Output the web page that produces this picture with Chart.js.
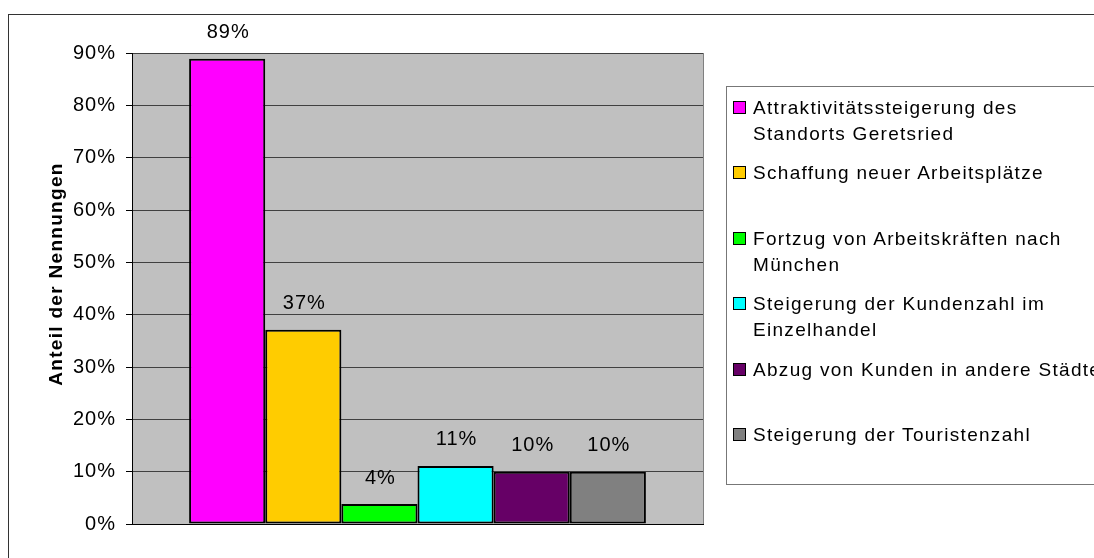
<!DOCTYPE html>
<html lang="de">
<head>
    <meta charset="UTF-8">
    <title>Anteil der Nennungen</title>
    <script src="https://cdn.jsdelivr.net/npm/chart.js"></script>
    <style>
        body {
            margin: 0;
            width: 1094px;
            height: 558px;
            overflow: hidden;
            background: #fff;
            font-family: "Liberation Sans", Arial, sans-serif;
            position: relative;
        }
        .frame {
            position: absolute;
            left: 8px;
            top: 14px;
            width: 1200px;
            height: 700px;
            border: 1px solid #333;
        }
        canvas {
            position: absolute;
            left: 0;
            top: 0;
        }
        #legend {
            position: absolute;
            left: 726px;
            top: 86px;
            width: 420px;
            height: 399px;
            border: 1px solid #777;
            background: #fff;
            padding-top: 8px;
            box-sizing: border-box;
        }
        .item {
            position: relative;
            height: 65.4px;
            padding-left: 26px;
            font-size: 19px;
            line-height: 26px;
            letter-spacing: 1.3px;
            color: #000;
            white-space: nowrap;
        }
        .swatch {
            position: absolute;
            left: 6px;
            top: 6px;
            width: 11px;
            height: 11px;
            border: 1.5px solid #000;
        }
    </style>
</head>
<body>

    <div class="frame"></div>
    <canvas id="chart" width="1094" height="558"></canvas>
    <div id="legend"></div>

    <script>
        // series names (line breaks as in the legend)
        const seriesLines = [
            ["Attraktivitätssteigerung des", "Standorts Geretsried"],
            ["Schaffung neuer Arbeitsplätze"],
            ["Fortzug von Arbeitskräften nach", "München"],
            ["Steigerung der Kundenzahl im", "Einzelhandel"],
            ["Abzug von Kunden in andere Städte"],
            ["Steigerung der Touristenzahl"]
        ];
        const values = [88.9, 37.1, 3.8, 11.1, 10, 10];
        const colors = ["#FF00FF", "#FFCC00", "#00FF00", "#00FFFF", "#660066", "#808080"];
        const yTicks = [0, 10, 20, 30, 40, 50, 60, 70, 80, 90];
        const yTitle = "Anteil der Nennungen";

        const FONT = "'Liberation Sans', Arial, sans-serif";

        const plotBg = {
            id: "plotBg",
            beforeDraw(chart) {
                const a = chart.chartArea;
                const ctx = chart.ctx;
                // slightly wider glyph spacing like the original rendering
                ctx.letterSpacing = "1px";
                ctx.save();
                ctx.fillStyle = "#C0C0C0";
                ctx.fillRect(a.left, a.top, a.right - a.left, a.bottom - a.top);
                ctx.strokeStyle = "#808080";
                ctx.lineWidth = 1;
                ctx.beginPath();
                ctx.moveTo(a.right + 0.5, a.top);
                ctx.lineTo(a.right + 0.5, a.bottom);
                ctx.stroke();
                ctx.restore();
            }
        };

        const barLabels = {
            id: "barLabels",
            afterDatasetsDraw(chart) {
                const ctx = chart.ctx;
                ctx.save();
                ctx.letterSpacing = "1px";
                ctx.font = "20px " + FONT;
                ctx.fillStyle = "#000";
                ctx.textAlign = "center";
                ctx.textBaseline = "middle";
                chart.data.datasets.forEach((ds, i) => {
                    const bar = chart.getDatasetMeta(i).data[0];
                    ctx.fillText(Math.round(ds.data[0]) + "%", bar.x + 1, bar.y - 26);
                });
                // y axis title
                ctx.letterSpacing = "1.3px";
                ctx.font = "bold 19px " + FONT;
                ctx.translate(57, 274);
                ctx.rotate(-Math.PI / 2);
                ctx.fillText(yTitle, 0, 0);
                ctx.restore();
            }
        };

        const datasets = seriesLines.map((lines, i) => ({
            label: lines.join(" "),
            data: [values[i]],
            backgroundColor: colors[i],
            borderColor: "#000",
            borderWidth: 2,
            borderSkipped: false
        }));

        const chart = new Chart(document.getElementById("chart"), {
            type: "bar",
            data: { labels: [""], datasets: datasets },
            options: {
                responsive: false,
                animation: false,
                layout: { padding: { left: 40, top: 53, right: 391, bottom: 24 } },
                datasets: { bar: { categoryPercentage: 0.8, barPercentage: 1.0 } },
                plugins: {
                    legend: { display: false },
                    tooltip: { enabled: false }
                },
                scales: {
                    x: {
                        grid: { display: false },
                        border: { color: "#000", width: 1 },
                        ticks: { display: false },
                        afterFit(scale) { scale.height = 10; }
                    },
                    y: {
                        min: 0,
                        max: 90,
                        afterBuildTicks(scale) {
                            scale.ticks = yTicks.map(v => ({ value: v }));
                        },
                        afterFit(scale) { scale.width = 92; },
                        grid: { color: "#404040", tickColor: "#000", tickLength: 6 },
                        border: { color: "#000", width: 1 },
                        ticks: {
                            padding: 10,
                            color: "#000",
                            font: { family: FONT, size: 20 },
                            callback: v => v + "%"
                        }
                    }
                }
            },
            plugins: [plotBg, barLabels]
        });

        // legend built from the chart's datasets
        const legend = document.getElementById("legend");
        chart.data.datasets.forEach((ds, i) => {
            const item = document.createElement("div");
            item.className = "item";
            const sw = document.createElement("span");
            sw.className = "swatch";
            sw.style.background = ds.backgroundColor;
            item.appendChild(sw);
            seriesLines[i].forEach(line => {
                const d = document.createElement("div");
                d.textContent = line;
                item.appendChild(d);
            });
            legend.appendChild(item);
        });
    </script>

</body>
</html>
